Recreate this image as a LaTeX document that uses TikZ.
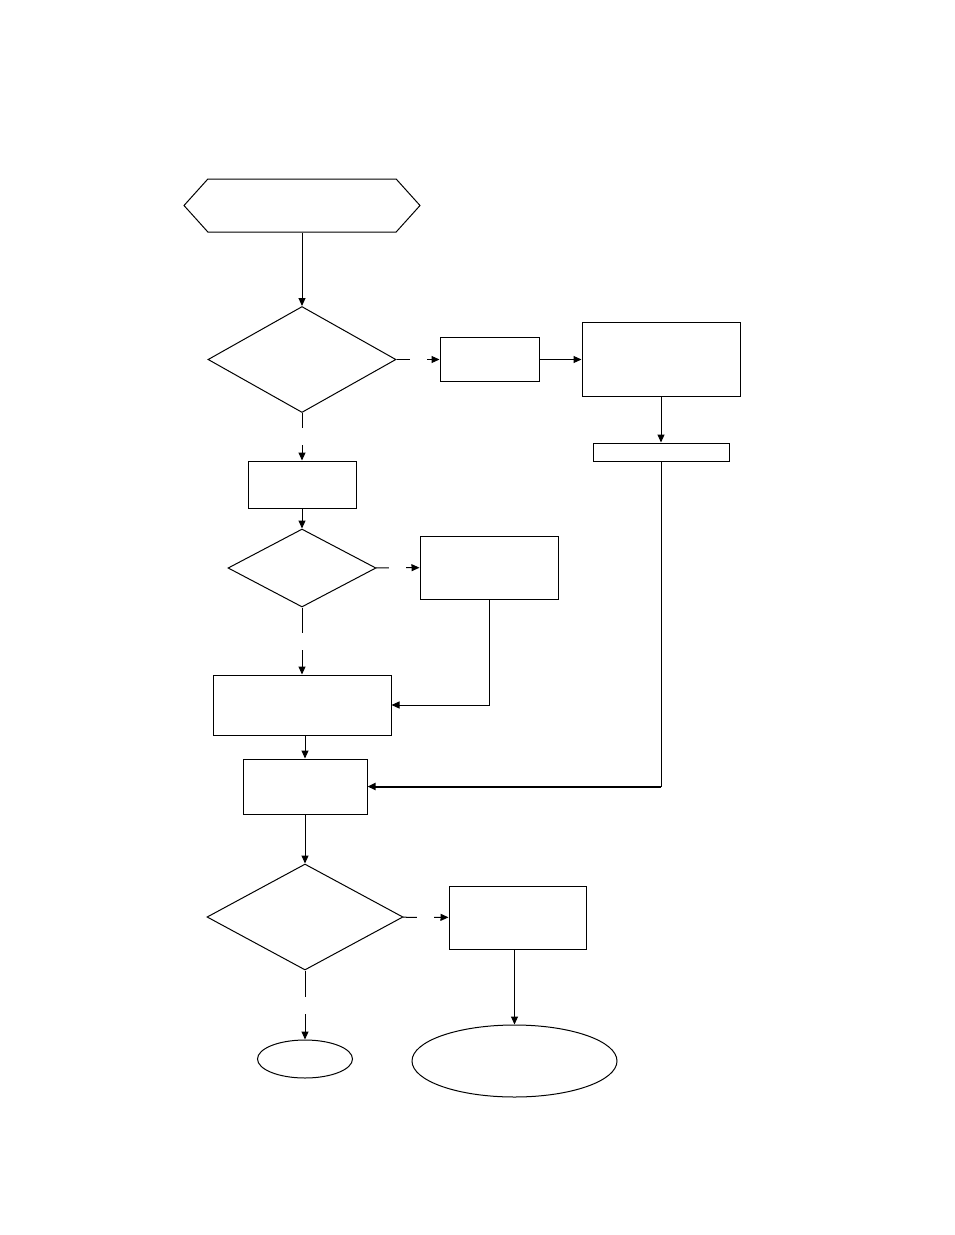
\documentclass[tikz,border=0pt]{standalone}
\usetikzlibrary{shapes.geometric,shapes.symbols,arrows.meta}
\begin{document}
\begin{tikzpicture}[x=1pt,y=-1pt,
 decision/.style={draw,diamond,inner sep=0pt},
 block/.style={draw,rectangle,inner sep=0pt},
 terminal/.style={draw,ellipse,inner sep=0pt},
 prep/.style={draw,signal,signal to=west and east,signal pointer angle=96,inner sep=0pt},
 gap/.style={fill=white,inner sep=0pt,minimum size=17pt},
 line width=1pt,>={Triangle[length=8pt,width=7pt]}]
\useasboundingbox (0,0) rectangle (954,1235);
\node[prep,minimum width=236pt,minimum height=53pt] (start) at (302,205.5) {};
\node[decision,minimum width=188pt,minimum height=106pt] (check1) at (302,359.5) {};
\node[block,minimum width=99pt,minimum height=44pt] (boxa) at (489.5,359.5) {};
\node[block,minimum width=158pt,minimum height=74pt] (boxb) at (661,359.5) {};
\node[block,minimum width=136pt,minimum height=18pt] (boxc) at (661,452) {};
\node[block,minimum width=108pt,minimum height=47pt] (boxd) at (302,484.5) {};
\node[decision,minimum width=148pt,minimum height=78pt] (check2) at (302,568) {};
\node[block,minimum width=138pt,minimum height=63pt] (boxe) at (489,567.5) {};
\node[block,minimum width=178pt,minimum height=60pt] (boxg) at (302,705) {};
\node[block,minimum width=124pt,minimum height=55pt] (boxf) at (305,786.5) {};
\node[decision,minimum width=196pt,minimum height=106pt] (check3) at (305,917) {};
\node[block,minimum width=137pt,minimum height=63pt] (boxh) at (517.5,917.5) {};
\node[terminal,minimum width=95pt,minimum height=38pt] (end1) at (305,1059) {};
\node[terminal,minimum width=205pt,minimum height=72pt] (end2) at (514.5,1061) {};
% top row
\draw[->] (start) -- (check1);
\draw[->] (check1) -- node[gap] {} (boxa);
\draw[->] (boxa) -- (boxb);
\draw[->] (boxb) -- (boxc);
\coordinate (turn) at (boxc.south |- boxf.east);
\draw (boxc) -- (turn);
\draw[->,line width=2pt] (turn) -- (boxf);
% middle
\draw[->] (check1) -- node[gap] {} (boxd);
\draw[->] (boxd) -- (check2);
\draw[->] (check2) -- node[gap] {} (boxe);
\draw[->] (boxe.south) |- (boxg.east);
\draw[->] (check2) -- node[gap] {} (boxg);
\draw[->] (boxg.south -| boxf) -- (boxf);
% bottom
\draw[->] (boxf) -- (check3);
\draw[->] (check3) -- node[gap] {} (boxh);
\draw[->] (end2.north |- boxh.south) -- (end2);
\draw[->] (check3) -- node[gap] {} (end1);
\end{tikzpicture}
\end{document}
